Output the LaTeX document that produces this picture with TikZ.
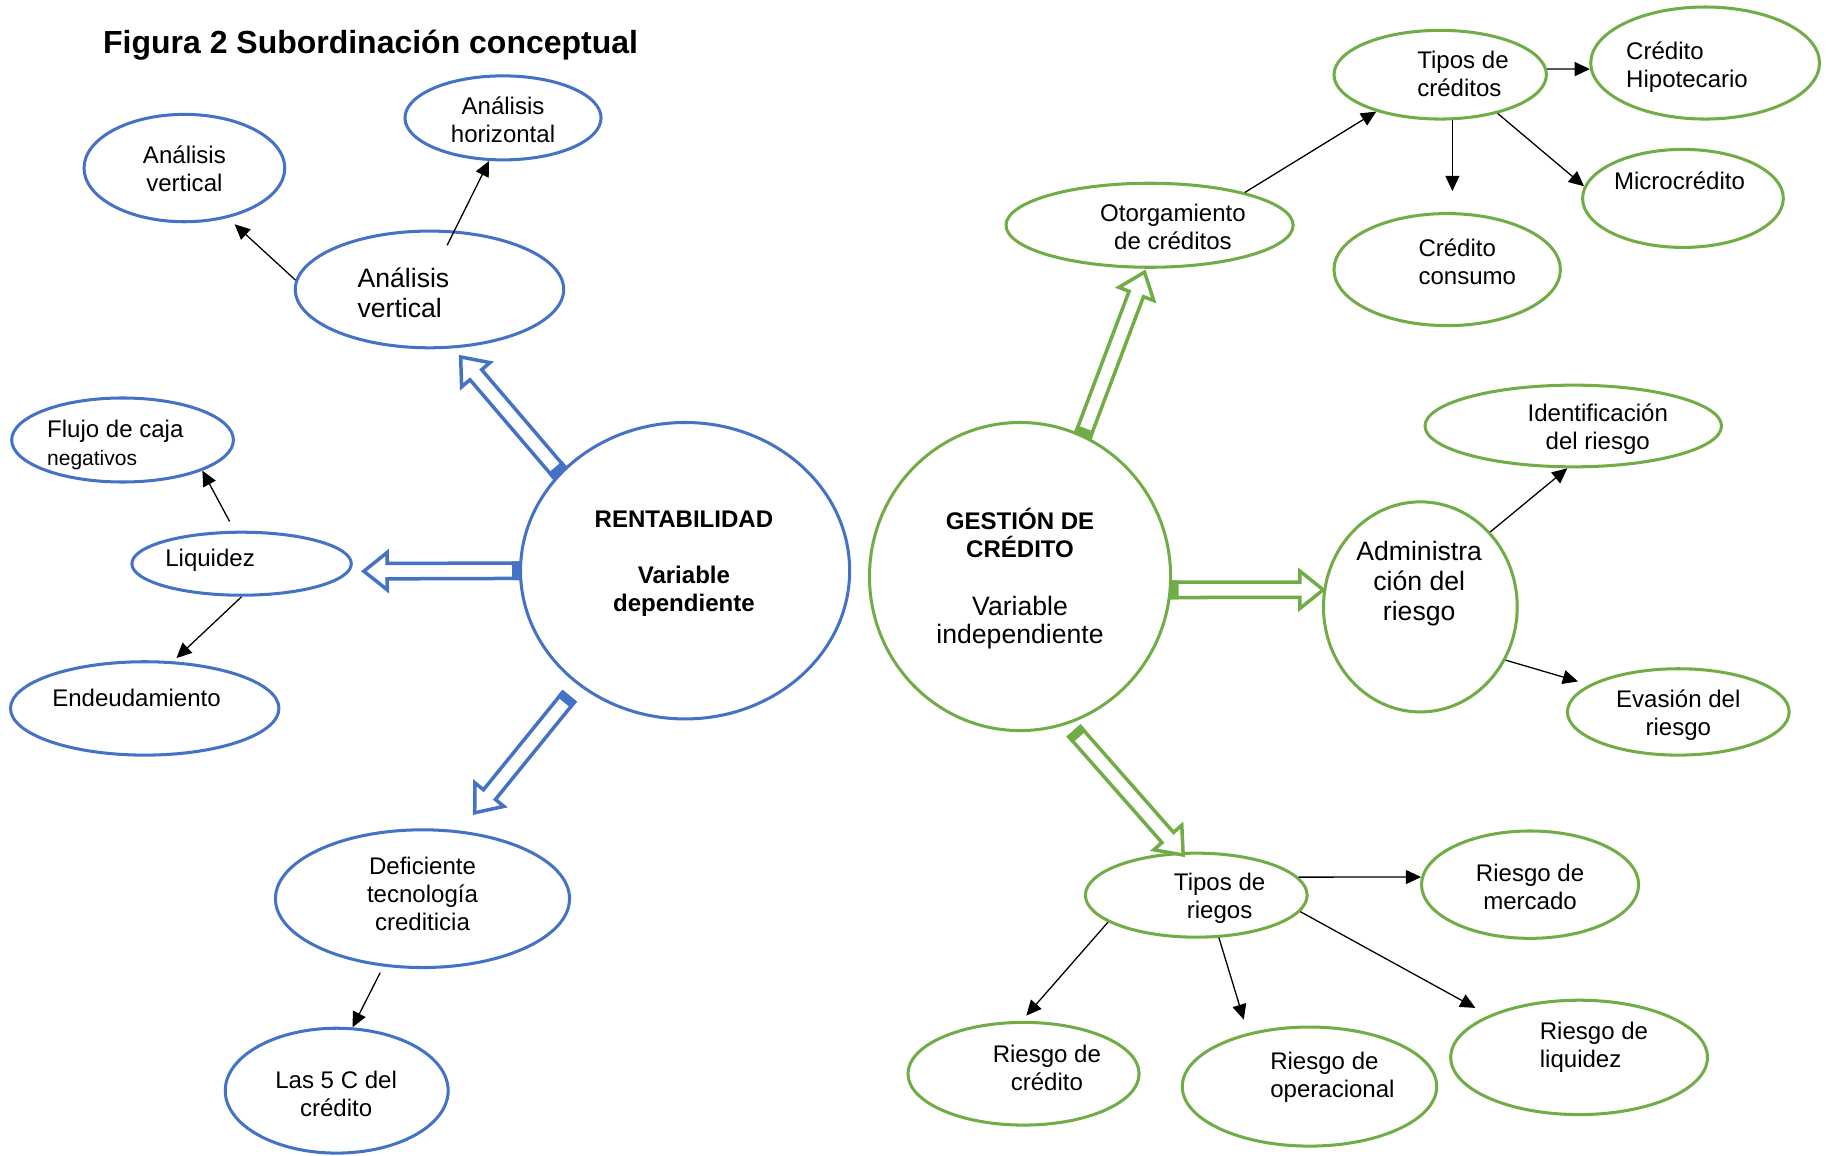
\documentclass[tikz,border=0pt]{standalone}
\usepackage{fontspec}
\setmainfont{Liberation Sans}
\usetikzlibrary{shapes.geometric, arrows.meta, calc}
\definecolor{myblue}{HTML}{4472C4}
\definecolor{mygreen}{HTML}{70AD47}
\newcommand\fnorm{\fontsize{10.3}{12}\selectfont}
\newcommand\fbig{\fontsize{11.4}{13}\selectfont}
\newcommand\fsmall{\fontsize{9}{10.5}\selectfont}
\newcommand\ftitle{\fontsize{13.7}{16}\selectfont\bfseries}
% hollow block arrow: #1 colour, #2 from, #3 to, #4 shorten start (pt), #5 shorten end (pt)
\newcommand{\blockarrow}[5]{%
  \path let \p1=(#2), \p2=(#3) in \pgfextra{%
    \pgfmathsetmacro\baA{atan2((\y2)-(\y1),(\x2)-(\x1))}%
    \pgfmathsetmacro\baL{veclen((\x2)-(\x1),(\y2)-(\y1))}%
    \xdef\baA{\baA}\xdef\baL{\baL}%
    \xdef\baX{\x1}\xdef\baY{\y1}%
  };
  \pgfmathsetmacro\baS{#4}%
  \pgfmathsetmacro\baE{\baL-(#5)}%
  \pgfmathsetmacro\baH{\baE-10}%
  \pgfmathsetmacro\baSm{\baS-0.75}%
  \pgfmathsetmacro\baT{\baS+3}%
  \begin{scope}[shift={(\baX,\baY)}, rotate=\baA]
    \draw[draw=#1, line width=1.5pt, line join=miter, fill=white]
      (\baS pt,-3.3pt) -- (\baH pt,-3.3pt) -- (\baH pt,-8pt) -- (\baE pt,0pt)
      -- (\baH pt,8pt) -- (\baH pt,3.3pt) -- (\baS pt,3.3pt) -- cycle;
    \fill[#1] (\baSm pt,-4.05pt) rectangle (\baT pt,4.05pt);
  \end{scope}
}
\begin{document}
\begin{tikzpicture}[x=0.5pt, y=-0.5pt,
  bl/.style={ellipse, draw=myblue, line width=1.3pt, inner sep=0pt},
  gr/.style={ellipse, draw=mygreen, line width=1.3pt, inner sep=0pt},
  ell/.style 2 args={minimum width=#1pt, minimum height=#2pt},
  txt/.style={align=center, inner sep=0pt, font=\fnorm},
  arr/.style={-{Triangle[length=6.5pt,width=6pt]}, line width=0.55pt, black}]
\useasboundingbox (0,0) rectangle (1568,990);

\node[anchor=west, inner sep=0pt, font=\ftitle] (title) at (88,39) {Figura 2 Subordinación conceptual};

% blue (left)
\node[bl, ell={86}{46}] (avt) at (158,144) {};
\node[bl, ell={84}{36}] (ah) at (431,101) {};
\node[bl, ell={115}{50}] (avc) at (368,248) {};
\node[bl, ell={95}{36}] (fc) at (105,377) {};
\node[bl, ell={94}{27}] (liq) at (207,483) {};
\node[bl, ell={115}{40}] (end) at (124,607) {};
\node[bl, ell={141}{127}] (rent) at (587,489) {};
\node[bl, ell={126}{59}] (def) at (362,770) {};
\node[bl, ell={95.5}{53.5}] (c5) at (288.5,934.5) {};

% green (right)
\node[gr, ell={129}{132}] (gest) at (874,494) {};
\node[gr, ell={123}{36}] (oto) at (985,193) {};
\node[gr, ell={91}{38}] (tc) at (1234,64) {};
\node[gr, ell={98}{48}] (hip) at (1461,54) {};
\node[gr, ell={86}{42}] (mic) at (1442,170) {};
\node[gr, ell={97}{48}] (cons) at (1240,231) {};
\node[gr, ell={127}{35}] (ide) at (1348,365) {};
\node[gr, ell={83}{90}] (adm) at (1217,520) {};
\node[gr, ell={95}{37}] (eva) at (1438,610) {};
\node[gr, ell={95}{36}] (tr) at (1025,767) {};
\node[gr, ell={93}{46}] (mer) at (1311,758) {};
\node[gr, ell={99}{44}] (rc) at (877,920) {};
\node[gr, ell={109}{51}] (rop) at (1122,931) {};
\node[gr, ell={110}{49}] (rliq) at (1353,906) {};

% texts
\node[txt] (avtT) at (158,145) {Análisis\\vertical};
\node[txt] (ahT) at (431,102.5) {Análisis\\horizontal};
\node[txt, font=\fbig, align=left, anchor=west] (avcT) at (306,251) {Análisis\\vertical};
\node[txt, align=left, anchor=west] (fcT) at (40,381) {Flujo de caja\\{\fsmall negativos}};
\node[txt] (liqT) at (180,480) {Liquidez};
\node[txt] (endT) at (117,598) {Endeudamiento};
\node[txt, font=\fnorm\bfseries] (rentT) at (586,483) {RENTABILIDAD\\[12pt]Variable\\dependiente};
\node[txt] (defT) at (362,766) {Deficiente\\tecnología\\crediticia};
\node[txt] (c5T) at (288,937.5) {Las 5 C del\\crédito};
\node[txt] (gestT) at (874,496) {\textbf{GESTIÓN DE}\\\textbf{CRÉDITO}\\[13pt]{\fbig Variable}\\{\fbig independiente}};
\node[txt] (otoT) at (1005,194) {Otorgamiento\\de créditos};
\node[txt, align=left, anchor=west] (tcT) at (1214,63.5) {Tipos de\\créditos};
\node[txt, align=left, anchor=west] (hipT) at (1393,57.5) {Crédito\\Hipotecario};
\node[txt] (micT) at (1439,155) {Microcrédito};
\node[txt, align=left, anchor=west] (consT) at (1215,224) {Crédito\\consumo};
\node[txt] (ideT) at (1369,368) {Identificación\\del riesgo};
\node[txt, font=\fbig] (admT) at (1216,500) {Administra\\ción del\\riesgo};
\node[txt] (evaT) at (1438,613) {Evasión del\\riesgo};
\node[txt] (trT) at (1045,770) {Tipos de\\riegos};
\node[txt] (merT) at (1311,759.5) {Riesgo de\\mercado};
\node[txt] (rcT) at (897,915) {Riesgo de\\crédito};
\node[txt, align=left, anchor=west] (ropT) at (1088,923) {Riesgo de\\operacional};
\node[txt, align=left, anchor=west] (rliqT) at (1319,897) {Riesgo de\\liquidez};

% thin arrows
\draw[arr, shorten >=4pt] (avc.176) -- (avt.-49);
\draw[arr, shorten <=-7pt] (avc.67) -- (ah.252);
\draw[arr, shorten <=4.5pt] (liq.102) -- (fc.-21);
\draw[arr, shorten >=2pt] (liq.-90) -- (end.59);
\draw[arr, shorten <=3pt] (def.240) -- (c5.76);
\draw[arr] (oto.19.5) -- (tc.210);
\draw[arr] (tc.3) -- (hip.183.5);
\draw[arr, shorten >=9pt] (tc.-75) -- (tc.-75 |- cons.north);
\draw[arr] (tc.-34) -- (mic.173.4);
\draw[arr] (adm.47) -- (ide.262);
\draw[arr, shorten >=5pt] (adm.-32) -- (eva.163);
\draw[arr] (tr.10) -- (mer.176);
\draw[arr, shorten >=3pt] (tr.197) -- (rc.92);
\draw[arr, shorten >=6pt] (tr.-62) -- (rop.139.5);
\draw[arr, shorten >=6.5pt] (tr.-9) -- (rliq.155);

% block arrows
\blockarrow{myblue}{rent.142.8}{avc.-68.4}{0}{4.7}
\blockarrow{myblue}{rent.180}{liq.-4}{0}{6}
\blockarrow{myblue}{rent.227}{def.61}{6.5}{9.7}
\blockarrow{mygreen}{gest.66}{oto.265.6}{0}{1.5}
\blockarrow{mygreen}{gest.-5.3}{adm.170.3}{0}{0}
\blockarrow{mygreen}{gest.-72.6}{tr.110.6}{4.3}{-1.8}
\end{tikzpicture}
\end{document}
